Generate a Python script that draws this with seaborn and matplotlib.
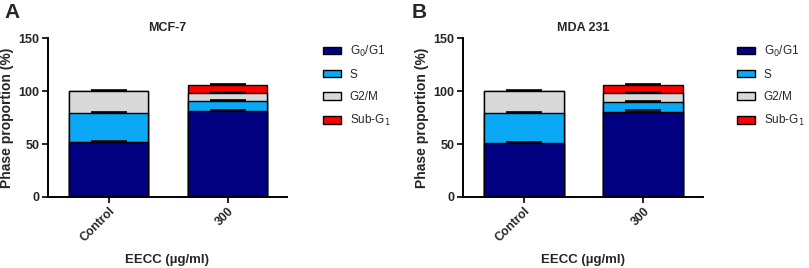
import numpy as np
import pandas as pd
import matplotlib
matplotlib.use("Agg")
import matplotlib.pyplot as plt
from matplotlib.patches import Patch
import seaborn as sns

sns.set_theme(style="ticks")
plt.rcParams['font.family'] = ['Liberation Sans', 'DejaVu Sans']

groups = ["Control", "300"]
phases = ["G0/G1", "S", "G2/M", "Sub-G1"]
legend_labels = ["G$_0$/G1", "S", "G2/M", "Sub-G$_1$"]
colors = ["#000080", "#0AA8F5", "#D9D9D9", "#FF0000"]

# values per phase, order: Control, 300
mcf7_vals = {"G0/G1": [51.5, 81.0], "S": [27.5, 9.5], "G2/M": [21.0, 8.0], "Sub-G1": [0.0, 7.0]}
mcf7_err = {"G0/G1": [1.5, 1.5], "S": [1.0, 1.0], "G2/M": [0.8, 1.0], "Sub-G1": [0.0, 0.8]}
mda_vals = {"G0/G1": [50.5, 80.5], "S": [28.5, 9.0], "G2/M": [21.0, 8.5], "Sub-G1": [0.0, 7.5]}
mda_err = {"G0/G1": [1.5, 1.5], "S": [1.0, 1.0], "G2/M": [0.8, 1.0], "Sub-G1": [0.0, 0.8]}

titles = ["MCF-7", "MDA 231"]
panel_letters = ["A", "B"]
xlabel = "EECC (\u00b5g/ml)"
ylabel = "Phase proportion (%)"
yticks = [0, 50, 100, 150]

fig = plt.figure(figsize=(8.09, 2.68), dpi=100)
ax_rects = [[0.0593, 0.265, 0.2954, 0.593], [0.5723, 0.265, 0.2967, 0.593]]
legend_pos = [(0.3995, 0.836), (0.911, 0.836)]
letter_pos = [(0.005, 0.99), (0.509, 0.99)]

for i, (vals, errs) in enumerate([(mcf7_vals, mcf7_err), (mda_vals, mda_err)]):
    ax = fig.add_axes(ax_rects[i])
    cum = np.zeros(len(groups))
    cums = {}
    for p in phases:
        cum = cum + np.array(vals[p])
        cums[p] = cum.copy()
    # draw from tallest (top of stack) down
    for p, c in reversed(list(zip(phases, colors))):
        d = pd.DataFrame({"group": groups, "value": cums[p]})
        sns.barplot(data=d, x="group", y="value", color=c, saturation=1,
                    edgecolor="black", linewidth=1.0, width=0.667, ax=ax, errorbar=None)
    # error bars (upward) at each segment top
    for p in phases:
        e = np.array(errs[p])
        mask = np.array(vals[p]) > 0
        xs = np.arange(len(groups))[mask]
        ax.errorbar(xs, cums[p][mask], yerr=[np.zeros(mask.sum()), e[mask]],
                    fmt="none", ecolor="black", elinewidth=1.0, capsize=13, capthick=1.2)
    ax.set_xlim(-0.51, 1.5)
    ax.set_ylim(0, 150)
    ax.set_yticks(yticks)
    ax.set_yticklabels([str(t) for t in yticks], fontsize=9, fontweight="bold")
    ax.set_xticks(range(len(groups)))
    ax.set_xticklabels(groups, rotation=45, ha="right", rotation_mode="anchor",
                       fontsize=8.7, fontweight="bold")
    ax.tick_params(axis="both", direction="out", length=4, width=1.2, color="black", pad=2)
    for s in ["top", "right"]:
        ax.spines[s].set_visible(False)
    for s in ["left", "bottom"]:
        ax.spines[s].set_linewidth(1.4)
        ax.spines[s].set_color("black")
    ax.set_xlabel(xlabel, fontsize=9.5, fontweight="bold", labelpad=7)
    ax.set_ylabel(ylabel, fontsize=10, fontweight="bold", labelpad=3)
    ax.set_title(titles[i], fontsize=9, fontweight="bold", pad=5)
    fig.text(letter_pos[i][0], letter_pos[i][1], panel_letters[i], fontsize=15,
             fontweight="bold", va="top", ha="left")
    handles = [Patch(facecolor=c, edgecolor="black", linewidth=1.0) for c in colors]
    fig.legend(handles, legend_labels, loc="upper left", bbox_to_anchor=legend_pos[i],
               bbox_transform=fig.transFigure, frameon=False, fontsize=8.5,
               handlelength=1.55, handleheight=0.55, handletextpad=0.7, labelspacing=0.85,
               borderaxespad=0, borderpad=0)

fig.savefig("out.png", dpi=100)
